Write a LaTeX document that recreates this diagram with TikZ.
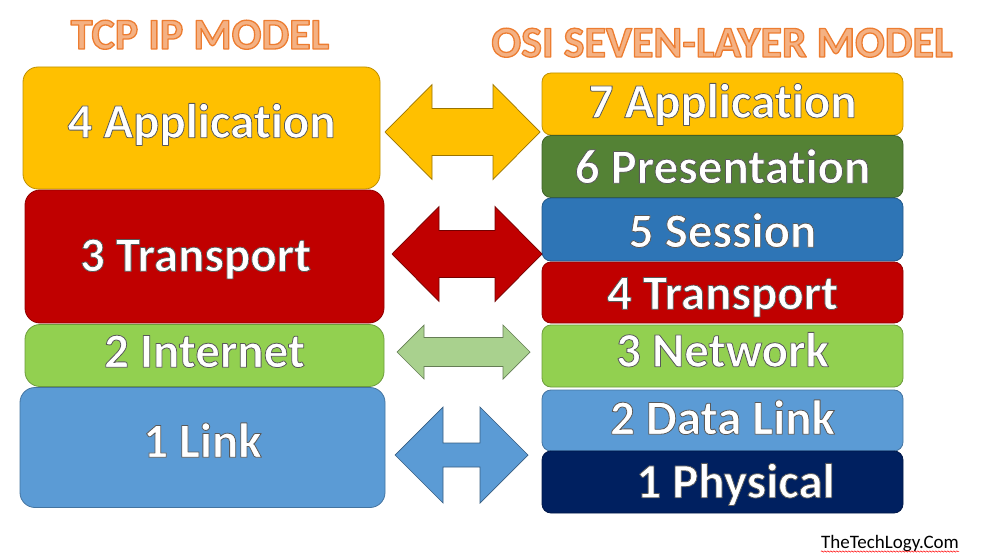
\documentclass[tikz,border=0pt]{standalone}
\usepackage{fontspec}
\setmainfont[Ligatures=NoCommon]{Carlito}
\usetikzlibrary{decorations.pathmorphing}
\definecolor{cyellow}{HTML}{FFC000}
\definecolor{cred}{HTML}{C00000}
\definecolor{clgreen}{HTML}{92D050}
\definecolor{cblue}{HTML}{5B9BD5}
\definecolor{cdgreen}{HTML}{548235}
\definecolor{csblue}{HTML}{2E75B6}
\definecolor{cnavy}{HTML}{002060}
\definecolor{cagreen}{HTML}{A9D18E}
\definecolor{ctfill}{HTML}{F4B183}
\definecolor{ctline}{HTML}{ED7D31}
% outlined text: #1 text, #2 fill colour, #3 stroke rgb, #4 stroke width
\newcommand\outl[4]{{\color{#2}\special{pdf:code q #3 RG #4 w 1 j 2 Tr}#1\special{pdf:code 0 Tr Q}}}
\newcommand\labtext[1]{\outl{#1}{white}{0.35 0.35 0.35}{0.8}}
\newcommand\titletext[1]{\outl{#1}{ctfill}{0.929 0.490 0.192}{1.3}}
\newcommand\dblarr[7]{%
  \draw[#1] (#2,#4) -- (#2+#7,#4-#5) -- (#2+#7,#4-#6) -- (#3-#7,#4-#6) -- (#3-#7,#4-#5)
   -- (#3,#4) -- (#3-#7,#4+#5) -- (#3-#7,#4+#6) -- (#2+#7,#4+#6) -- (#2+#7,#4+#5) -- cycle;}
\tikzset{
  layer/.style={draw=#1!75!black, fill=#1, line width=0.8pt, inner sep=0pt,
    font=\fontsize{49}{52}\selectfont\bfseries, text height=31.5pt, text depth=0pt, text=white},
  lbox/.style={layer=#1, rounded corners=15pt},
  rbox/.style={layer=#1, rounded corners=9pt},
  title/.style={font=\fontsize{44}{48}\selectfont\bfseries, inner sep=0pt, text height=28pt, text depth=0pt},
  arr/.style={fill=#1, draw=#1!60!black, line width=0.7pt, line join=miter}
}
\begin{document}
\begin{tikzpicture}[x=1pt,y=-1pt]
\useasboundingbox (0,0) rectangle (985,559);
% titles
\node[title] (ttcp) at (200,35) {\titletext{TCP IP MODEL}};
\node[title] (tosi) at (722,43) {\titletext{OSI SEVEN-LAYER MODEL}};
% left boxes
\node[lbox=cyellow, minimum width=357pt, minimum height=122pt, text depth=12pt] (l4) at (201.5,128) {\labtext{4 Application}};
\node[lbox=cred, minimum width=359pt, minimum height=133pt, text depth=2pt] (l3) at (204.5,256.5) {\hspace*{-18pt}\labtext{3 Transport}};
\node[lbox=clgreen, minimum width=359pt, minimum height=62pt, text depth=8pt] (l2) at (204.5,355.5) {\labtext{2 Internet}};
\node[lbox=cblue, minimum width=365pt, minimum height=120pt, text depth=12pt] (l1) at (202.5,447.5) {\labtext{1 Link}};
% right boxes
\node[rbox=cyellow, minimum width=361pt, minimum height=62pt, text depth=4pt] (r7) at (722.5,104) {\labtext{7 Application}};
\node[rbox=cdgreen, minimum width=361pt, minimum height=62pt, text height=33.5pt] (r6) at (722.5,166.5) {\labtext{6 Presentation}};
\node[rbox=csblue, minimum width=361pt, minimum height=63pt, text height=35.5pt] (r5) at (722.5,229.5) {\labtext{5 Session}};
\node[rbox=cred, minimum width=361pt, minimum height=61pt, text height=33.5pt] (r4) at (722.5,292.5) {\labtext{4 Transport}};
\node[rbox=clgreen, minimum width=361pt, minimum height=62pt, text depth=10pt] (r3) at (722.5,356) {\labtext{3 Network}};
\node[rbox=cblue, minimum width=361pt, minimum height=61pt, text depth=4pt] (r2) at (722.5,420.5) {\labtext{2 Data Link}};
\node[rbox=cnavy, minimum width=361pt, minimum height=62pt] (r1) at (722.5,482) {\hspace*{26pt}\labtext{1 Physical}};
% double arrows
\dblarr{arr=cyellow}{385}{540}{132}{47.5}{23.5}{47}
\dblarr{arr=cred}{392}{542}{254}{47.5}{23.5}{47}
\dblarr{arr=cagreen}{397}{530}{352}{27}{14.5}{27}
\dblarr{arr=cblue}{395}{528}{455}{48}{12}{48}
% watermark
\node[font=\fontsize{19}{22}\selectfont, inner sep=0pt, anchor=base] (wm) at (890,548) {TheTechLogy.Com};
\draw[red, line width=0.5pt, decorate, decoration={snake, amplitude=0.7pt, segment length=3pt}]
  ([yshift=-3.5pt]wm.base west) -- ([yshift=-3.5pt]wm.base east);
\end{tikzpicture}
\end{document}
